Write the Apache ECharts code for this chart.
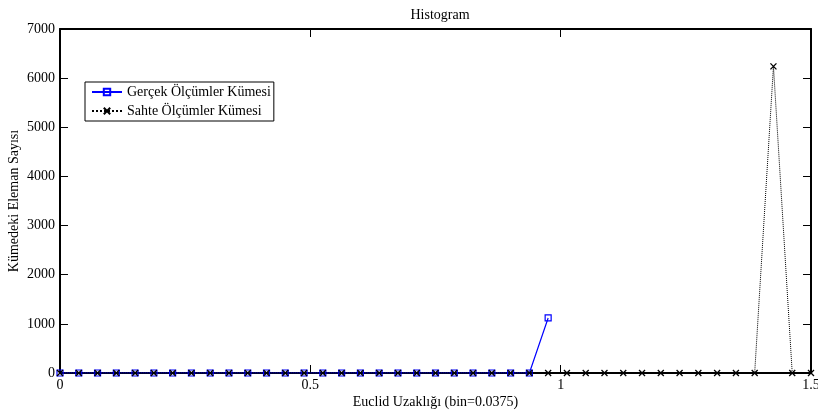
<!DOCTYPE html>
<html>
<head>
<meta charset="utf-8">
<script src="https://cdn.jsdelivr.net/npm/echarts@6/dist/echarts.min.js"></script>
<style>
html,body{margin:0;padding:0;background:#fff;}
#chart{width:818px;height:410px;}
</style>
</head>
<body>
<div id="chart"></div>
<script>
// Bin centres (bin width 0.0375)
const realBins = [0, 0.0375, 0.075, 0.1125, 0.15, 0.1875, 0.225, 0.2625, 0.3, 0.3375,
  0.375, 0.4125, 0.45, 0.4875, 0.525, 0.5625, 0.6, 0.6375, 0.675, 0.7125,
  0.75, 0.7875, 0.825, 0.8625, 0.9, 0.9375, 0.975];
const realCounts = [0, 0, 0, 0, 0, 0, 0, 0, 0, 0,
  0, 0, 0, 0, 0, 0, 0, 0, 0, 0,
  0, 0, 0, 0, 0, 0, 1120];

const fakeBins = [0, 0.0375, 0.075, 0.1125, 0.15, 0.1875, 0.225, 0.2625, 0.3, 0.3375,
  0.375, 0.4125, 0.45, 0.4875, 0.525, 0.5625, 0.6, 0.6375, 0.675, 0.7125,
  0.75, 0.7875, 0.825, 0.8625, 0.9, 0.9375, 0.975, 1.0125, 1.05, 1.0875,
  1.125, 1.1625, 1.2, 1.2375, 1.275, 1.3125, 1.35, 1.3875, 1.425, 1.4625, 1.5];
const fakeCounts = [0, 0, 0, 0, 0, 0, 0, 0, 0, 0,
  0, 0, 0, 0, 0, 0, 0, 0, 0, 0,
  0, 0, 0, 0, 0, 0, 0, 0, 0, 0,
  0, 0, 0, 0, 0, 0, 0, 0, 6240, 0, 0];

const seriesNames = ['Gerçek Ölçümler Kümesi', 'Sahte Ölçümler Kümesi'];
const xTicks = [0, 0.5, 1, 1.5];
const yMax = 7000;

const font = 'Liberation Serif';
const fs = 14;
const pair = (xs, ys) => xs.map((x, i) => [x, ys[i]]);

const chart = echarts.init(document.getElementById('chart'));
const axisLine = { show: true, onZero: false, lineStyle: { color: '#000', width: 2 } };
const axisTick = { show: true, inside: true, length: 8, lineStyle: { color: '#000', width: 1 } };
chart.setOption({
  animation: false,
  backgroundColor: '#fff',
  textStyle: { fontFamily: font },
  title: {
    text: 'Histogram', left: 435, top: 3, textAlign: 'center',
    textStyle: { fontFamily: font, fontSize: fs, fontWeight: 'normal', color: '#000' }
  },
  grid: { left: 60, right: 7, top: 29, bottom: 37, containLabel: false, outerBoundsMode: 'none' },
  legend: {
    left: 85, top: 82, orient: 'vertical', itemWidth: 30, itemHeight: 8, itemGap: 5,
    padding: [3, 3, 3, 6],
    borderColor: '#000', borderWidth: 1, backgroundColor: '#fff',
    textStyle: { fontFamily: font, fontSize: fs, color: '#000' },
    data: seriesNames
  },
  xAxis: [{
    type: 'value', min: 0, max: 1.5, interval: 0.5,
    name: 'Euclid Uzaklığı (bin=0.0375)', nameLocation: 'middle', nameGap: 22,
    nameMoveOverlap: false,
    nameTextStyle: { fontFamily: font, fontSize: fs, color: '#000' },
    axisLine, axisTick,
    axisLabel: { fontFamily: font, fontSize: fs, color: '#000', margin: 5,
      formatter: v => xTicks.includes(v) ? String(v) : '' },
    splitLine: { show: false }
  }, {
    type: 'value', min: 0, max: 1.5, interval: 0.5, position: 'top',
    axisLine, axisTick,
    axisLabel: { show: false }, splitLine: { show: false }
  }],
  yAxis: [{
    type: 'value', min: 0, max: yMax, interval: 1000,
    name: 'Kümedeki Eleman Sayısı', nameLocation: 'middle', nameGap: 39,
    nameMoveOverlap: false,
    nameTextStyle: { fontFamily: font, fontSize: fs, color: '#000' },
    axisLine, axisTick,
    axisLabel: { fontFamily: font, fontSize: fs, color: '#000', margin: 5,
      formatter: v => String(v) },
    splitLine: { show: false }
  }, {
    type: 'value', min: 0, max: yMax, interval: 1000, position: 'right',
    axisLine, axisTick,
    axisLabel: { show: false }, splitLine: { show: false }
  }],
  series: [{
    name: seriesNames[0], type: 'line', data: pair(realBins, realCounts),
    symbol: 'rect', symbolSize: 6, showAllSymbol: true,
    lineStyle: { color: '#0000ff', width: 1.2 },
    itemStyle: { color: 'rgba(0,0,0,0)', borderColor: '#0000ff', borderWidth: 1.2 },
    z: 2
  }, {
    name: seriesNames[1], type: 'line', data: pair(fakeBins, fakeCounts),
    symbol: 'path://M0,0L10,10M10,0L0,10', symbolSize: 6, showAllSymbol: true,
    lineStyle: { color: '#000', width: 1, type: 'dotted' },
    itemStyle: { color: 'rgba(0,0,0,0)', borderColor: '#000', borderWidth: 1.3 },
    z: 3
  }]
});
</script>
</body>
</html>
